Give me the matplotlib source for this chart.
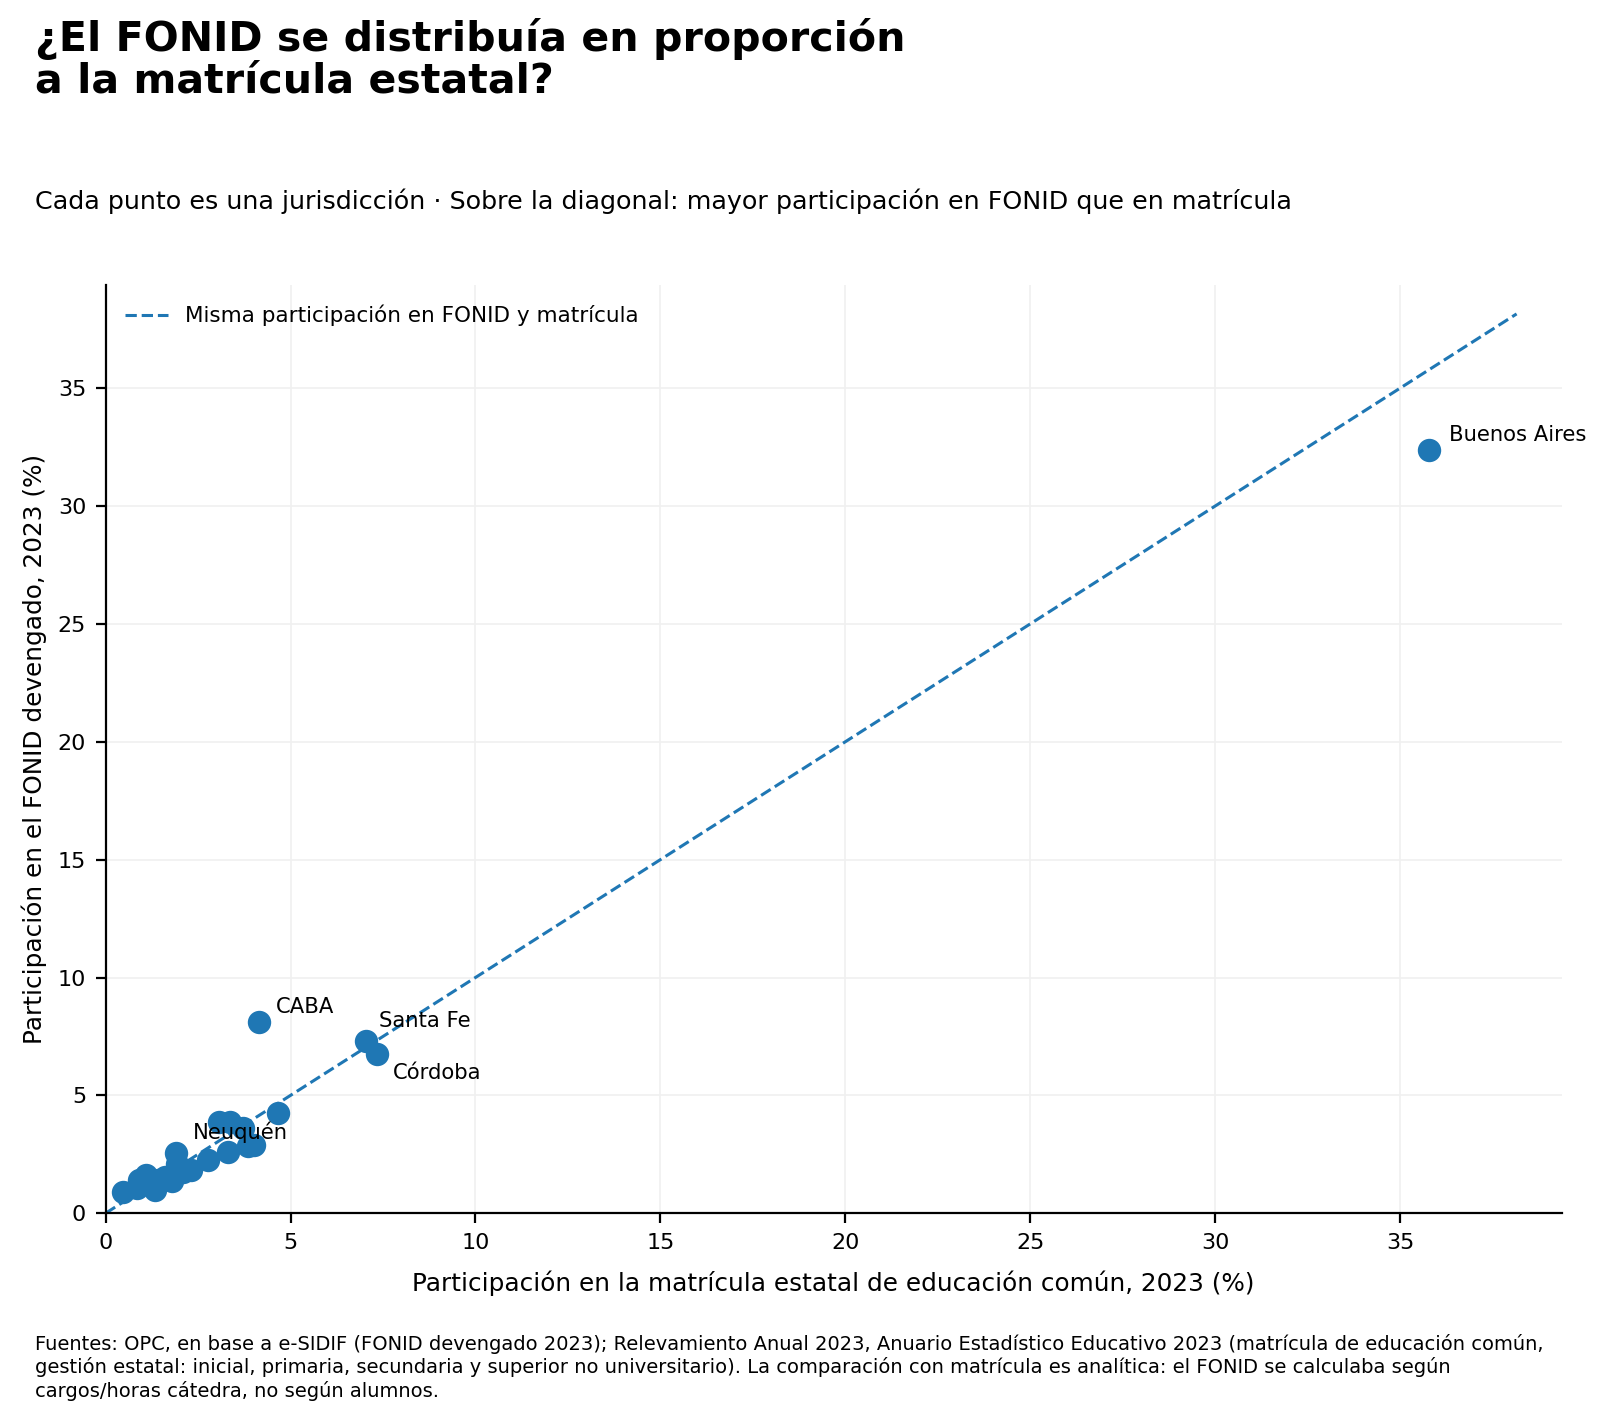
import numpy as np
import matplotlib.pyplot as plt

# participación en matrícula estatal (x) y en FONID devengado (y), 2023 (%)
matricula = [35.79, 4.15, 7.03, 7.33, 4.65, 3.07, 3.36, 3.72, 4.02, 3.85,
             3.31, 2.77, 0.47, 0.86, 0.90, 1.10, 1.33, 1.42, 1.60, 1.80,
             1.90, 1.93, 2.10, 2.30]
fonid = [32.38, 8.11, 7.29, 6.76, 4.27, 3.89, 3.89, 3.61, 2.89, 2.85,
         2.61, 2.26, 0.90, 1.05, 1.40, 1.62, 1.00, 1.40, 1.55, 1.35,
         2.54, 2.10, 1.75, 1.85]
etiquetas = {0: "Buenos Aires", 1: "CABA", 2: "Santa Fe", 3: "Córdoba", 20: "Neuquén"}
desplaz = {0: (7, 5.5), 1: (6, 5.5), 2: (5, 7.5), 3: (6, -7), 20: (6, 7.5)}

x = np.array(matricula)
y = np.array(fonid)
color = "#1f77b4"

fig = plt.figure(figsize=(8, 7.095), dpi=200)
ax = fig.add_axes([0.066, 0.145, 0.91, 0.654])

mx = max(x.max(), y.max())
ax.plot([0, mx * 1.066], [0, mx * 1.066], linestyle="--", color=color,
        linewidth=1.1, label="Misma participación en FONID y matrícula")
ax.scatter(x, y, s=55, color=color, zorder=3)

for i, nombre in etiquetas.items():
    ax.annotate(nombre, (x[i], y[i]), xytext=desplaz[i], textcoords="offset points",
                fontsize=7.6, va="center", ha="left")

ax.set_xlim(0, mx * 1.1)
ax.set_ylim(0, mx * 1.1)
ax.grid(True, color="#f0f0f0", linewidth=0.6)
ax.set_axisbelow(True)
ax.spines["top"].set_visible(False)
ax.spines["right"].set_visible(False)
ax.tick_params(labelsize=8)
ax.set_xlabel("Participación en la matrícula estatal de educación común, 2023 (%)",
              fontsize=8.9, labelpad=6.5)
ax.set_ylabel("Participación en el FONID devengado, 2023 (%)", fontsize=8.9)
ax.legend(loc="upper left", frameon=False, fontsize=7.75)

fig.text(0.022, 0.987, "¿El FONID se distribuía en proporción\na la matrícula estatal?",
         fontsize=14.8, fontweight="bold", va="top", ha="left", linespacing=1.05)
fig.text(0.022, 0.858, "Cada punto es una jurisdicción · Sobre la diagonal: mayor "
         "participación en FONID que en matrícula", fontsize=9.15, va="center", ha="left")
fig.text(0.022, 0.013,
         "Fuentes: OPC, en base a e-SIDIF (FONID devengado 2023); Relevamiento Anual 2023, "
         "Anuario Estadístico Educativo 2023 (matrícula de educación común,\n"
         "gestión estatal: inicial, primaria, secundaria y superior no universitario). "
         "La comparación con matrícula es analítica: el FONID se calculaba según\n"
         "cargos/horas cátedra, no según alumnos.",
         fontsize=7.0, va="bottom", ha="left")

fig.savefig("out.png", dpi=200)
